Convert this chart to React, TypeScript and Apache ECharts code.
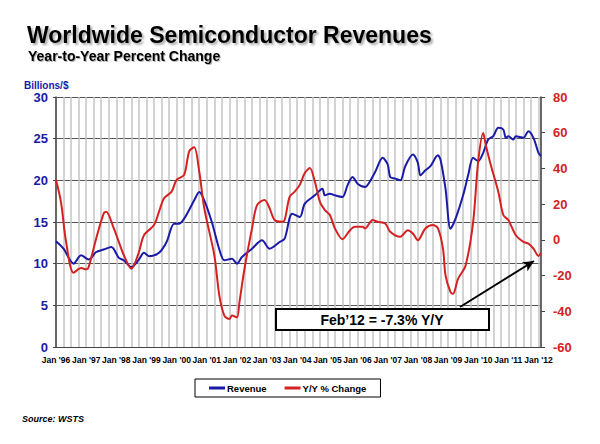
import React, { useEffect, useRef } from "react";
import * as echarts from "echarts";

// Months since Jan 1996 (0 = Jan '96, 193 = Feb '12)
const revenueMonths = [0, 3, 7, 10, 13, 16, 19, 22, 25, 27, 30, 33, 35, 37, 41, 44, 47, 49, 51, 55, 57, 59, 62, 65, 67, 70, 72, 74, 78, 82, 85, 89, 91, 94, 97, 99, 103, 106, 107, 109, 111, 114, 116, 118, 120, 123, 125, 127, 130, 132, 133, 135, 137, 139, 142, 144, 145, 147, 149, 152, 153, 155, 157, 159, 162, 164, 166, 168, 170, 172, 174, 176, 178, 179, 180, 182, 183, 186, 188, 190, 192, 193];
const revenueValues = [12.7, 11.8, 10.0, 11.0, 10.5, 11.4, 11.7, 12.0, 10.7, 10.4, 9.6, 10.5, 11.3, 10.9, 11.3, 12.6, 14.8, 14.8, 15.4, 17.6, 18.6, 17.6, 15.0, 11.7, 10.4, 10.6, 10.0, 10.8, 11.8, 12.8, 11.8, 12.6, 13.0, 16.0, 15.6, 17.2, 18.2, 19.0, 18.2, 18.4, 18.2, 18.0, 19.4, 20.4, 19.6, 19.2, 19.9, 21.0, 22.7, 21.9, 20.4, 20.2, 20.0, 21.7, 23.1, 22.1, 20.6, 21.2, 21.7, 23.0, 22.5, 19.0, 14.2, 15.4, 18.2, 20.6, 22.7, 22.3, 23.3, 24.9, 25.3, 26.3, 26.1, 25.1, 25.3, 24.9, 25.3, 25.1, 25.9, 25.1, 23.3, 22.9];

const yoyMonths = [0, 2, 4, 7, 10, 12, 13, 16, 19, 20, 23, 25, 27, 30, 33, 35, 39, 41, 43, 46, 48, 51, 53, 55, 57, 59, 63, 65, 67, 69, 70, 72, 73, 75, 78, 80, 83, 85, 87, 90, 91, 93, 95, 97, 99, 101, 103, 105, 107, 109, 111, 114, 117, 119, 122, 123, 126, 128, 131, 133, 137, 140, 142, 144, 147, 150, 152, 154, 155, 157, 158, 160, 163, 166, 168, 170, 171, 173, 176, 178, 180, 183, 186, 188, 190, 192, 193];
const yoyValues = [33.6, 21.0, -1.0, -18.4, -15.8, -16.5, -15.2, 0.8, 14.8, 15.8, 6.4, -1.1, -8.6, -16.2, -6.8, 2.6, 8.3, 15.8, 23.3, 27.0, 33.6, 36.4, 49.6, 51.8, 38.3, 17.7, -8.6, -31.2, -42.4, -44.3, -42.4, -43.4, -34.9, -16.2, 6.4, 19.5, 22.3, 17.7, 11.1, 10.1, 11.1, 24.2, 27.0, 30.8, 37.4, 40.2, 32.7, 21.4, 16.7, 13.9, 6.4, 0.4, 5.4, 7.3, 7.3, 6.4, 11.1, 10.1, 9.2, 4.5, 1.7, 5.4, 3.6, -0.2, 6.4, 8.3, 6.4, -4.9, -19.9, -29.3, -30.2, -21.8, -14.3, 10.1, 43.9, 59.9, 53.3, 42.1, 27.0, 13.9, 11.1, 2.6, -1.1, -2.1, -4.9, -9.0, -7.3];

const yearLabels = ["Jan '96", "Jan '97", "Jan '98", "Jan '99", "Jan '00", "Jan '01", "Jan '02", "Jan '03", "Jan '04", "Jan '05", "Jan '06", "Jan '07", "Jan '08", "Jan '09", "Jan '10", "Jan '11", "Jan '12"];

const FONT = "'Liberation Sans', Arial, sans-serif";
const BLUE = "#1a1aa8";
const RED = "#d42222";

export default function App() {
  const ref = useRef<HTMLDivElement>(null);
  useEffect(() => {
    const chart = echarts.init(ref.current!, null, { renderer: "svg" });
    const lastYoy = yoyValues[yoyValues.length - 1];
    chart.setOption({
      animation: false,
      backgroundColor: "#ffffff",
      textStyle: { fontFamily: FONT },
      title: [
        {
          text: "Worldwide Semiconductor Revenues",
          left: 27,
          top: 23,
          padding: 0,
          textStyle: {
            fontFamily: FONT,
            fontSize: 23,
            fontWeight: "bold",
            color: "#000",
            textShadowColor: "rgba(0,0,0,0.35)",
            textShadowOffsetX: 2,
            textShadowOffsetY: 2,
            textShadowBlur: 2,
          },
        },
        {
          text: "Year-to-Year Percent Change",
          left: 28,
          top: 49,
          padding: 0,
          textStyle: {
            fontFamily: FONT,
            fontSize: 14,
            fontWeight: "bold",
            color: "#000",
            textShadowColor: "rgba(0,0,0,0.3)",
            textShadowOffsetX: 1,
            textShadowOffsetY: 1,
            textShadowBlur: 1,
          },
        },
      ],
      grid: { left: 56, right: 59, top: 97, bottom: 97 },
      legend: {
        left: 195,
        top: 379,
        width: 187,
        padding: [4, 14, 4, 14],
        borderColor: "#000",
        borderWidth: 1,
        itemWidth: 16,
        itemHeight: 3,
        itemGap: 18,
        icon: "rect",
        textStyle: { fontFamily: FONT, fontSize: 9.5, fontWeight: "bold", color: "#000", padding: [0, 0, 0, -3] },
        data: ["Revenue", "Y/Y % Change"],
      },
      xAxis: {
        type: "value",
        min: 0,
        max: 193,
        interval: 3,
        axisLine: { show: true, lineStyle: { color: "#444", width: 1 } },
        axisTick: { show: false },
        axisLabel: {
          showMaxLabel: false,
          formatter: (v: number) => (v % 12 === 0 ? yearLabels[v / 12] : ""),
          fontFamily: FONT,
          fontSize: 8.5,
          fontWeight: "bold",
          color: "#000",
          margin: 8,
        },
        splitLine: { show: true, lineStyle: { color: "#c4c4c4", width: 1.5 } },
      },
      yAxis: [
        {
          type: "value",
          min: 0,
          max: 30,
          interval: 5,
          axisLine: { show: true, lineStyle: { color: "#444", width: 1.5 } },
          axisTick: { show: true, length: 3, lineStyle: { color: "#444" } },
          axisLabel: { fontFamily: FONT, fontSize: 13, fontWeight: "bold", color: BLUE, margin: 8 },
          splitLine: { show: true, lineStyle: { color: "#555", width: 1.2 } },
        },
        {
          type: "value",
          min: -60,
          max: 80,
          interval: 20,
          position: "right",
          axisLine: { show: true, lineStyle: { color: "#444", width: 1.5 } },
          axisTick: { show: true, length: 4, lineStyle: { color: "#444" } },
          axisLabel: { fontFamily: FONT, fontSize: 13, fontWeight: "bold", color: RED, margin: 12 },
          splitLine: { show: false },
        },
      ],
      series: [
        {
          name: "Revenue",
          type: "line",
          yAxisIndex: 0,
          symbol: "none",
          smooth: 0.3,
          color: BLUE,
          lineStyle: { color: BLUE, width: 2 },
          data: revenueMonths.map((m, i) => [m, revenueValues[i]]),
        },
        {
          name: "Y/Y % Change",
          type: "line",
          yAxisIndex: 1,
          symbol: "none",
          smooth: 0.3,
          color: RED,
          lineStyle: { color: RED, width: 2 },
          data: yoyMonths.map((m, i) => [m, yoyValues[i]]),
          markLine: {
            silent: true,
            symbol: ["none", "arrow"],
            symbolSize: [8, 11],
            label: { show: false },
            lineStyle: { color: "#000", width: 2, type: "solid" },
            data: [[{ x: 460, y: 307 }, { x: 534, y: 261 }]],
          },
        },
      ],
      graphic: [
        {
          type: "text",
          left: 24,
          top: 80,
          z: 100,
          style: {
            text: "Billions/$",
            fontFamily: FONT,
            fontSize: 10,
            fontWeight: "bold",
            fill: BLUE,
          },
        },
        {
          type: "group",
          left: 275,
          top: 308,
          z: 100,
          children: [
            {
              type: "rect",
              z: 100,
              shape: { x: 0, y: 0, width: 213, height: 21 },
              style: { fill: "#fff", stroke: "#000", lineWidth: 2 },
            },
            {
              type: "text",
              z: 101,
              x: 106,
              y: 11,
              style: {
                text: `Feb\u201912 = ${lastYoy}% Y/Y`,
                fontFamily: FONT,
                fontSize: 14,
                fontWeight: "bold",
                fill: "#000",
                align: "center",
                verticalAlign: "middle",
              },
            },
          ],
        },
        {
          type: "text",
          left: 22,
          top: 414,
          style: {
            text: "Source: WSTS",
            fontFamily: FONT,
            fontSize: 9,
            fontWeight: "bold",
            fontStyle: "italic",
            fill: "#000",
          },
        },
      ],
    });
    return () => chart.dispose();
  }, []);
  return <div ref={ref} style={{ position: "fixed", left: 0, top: 0, width: 600, height: 444 }} />;
}
